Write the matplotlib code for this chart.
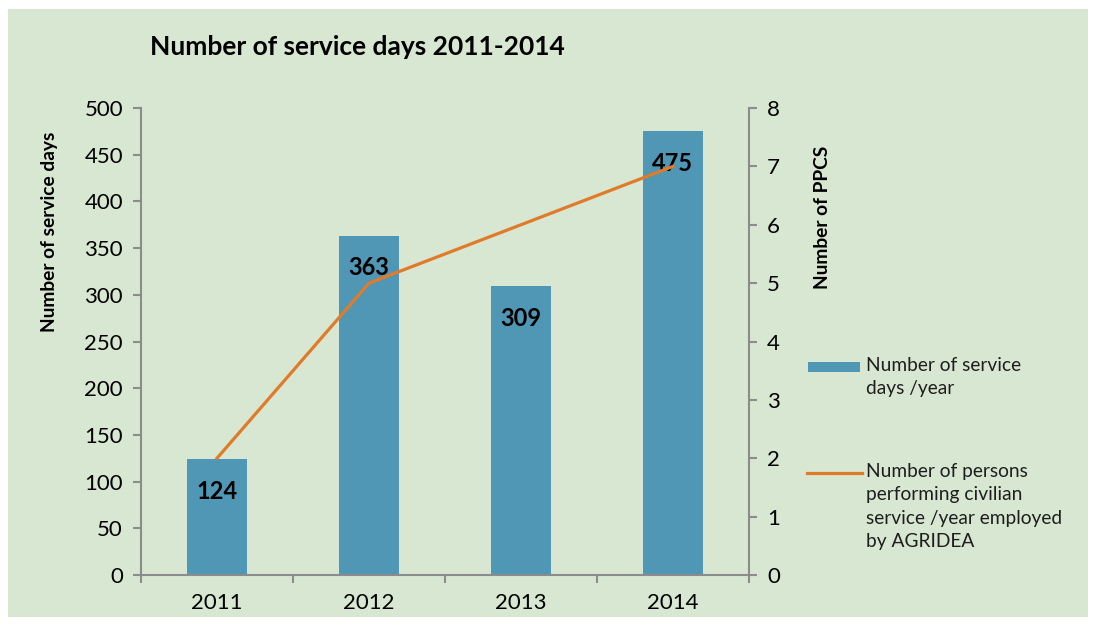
import matplotlib.pyplot as plt
from matplotlib.patches import Rectangle
from matplotlib.lines import Line2D

# data
years = ["2011", "2012", "2013", "2014"]
service_days = [124, 363, 309, 475]
ppcs = [2, 5, 6, 7]

bar_color = "#4f97b5"
line_color = "#e07b2a"
bg = "#d8e7d2"
axis_gray = "#8c8c8c"

plt.rcParams['font.family'] = ['Lato', 'DejaVu Sans']

fig = plt.figure(figsize=(10.96, 6.26), dpi=100)
fig.patch.set_facecolor("white")
fig.add_artist(Rectangle((8 / 1096, 1 - 617 / 626), 1080 / 1096, 608 / 626,
                         transform=fig.transFigure, facecolor=bg, edgecolor="none", zorder=-10))

ax = fig.add_axes([141 / 1096, 1 - 575 / 626, 608 / 1096, 467 / 626])
ax.set_facecolor("none")
x = range(len(years))
bars = ax.bar(x, service_days, width=0.4, color=bar_color, zorder=2)
ax.set_xlim(-0.5, 3.5)
ax.set_ylim(0, 500)
ax.set_yticks(range(0, 501, 50))
ax.set_xticks(list(x))
ax.set_xticklabels(years)
ax.set_xticks([-0.5, 0.5, 1.5, 2.5, 3.5], minor=True)
ax.tick_params(axis="x", which="major", length=0, pad=13, labelsize=16)
ax.tick_params(axis="x", which="minor", length=6, width=1.5, color=axis_gray, direction="out")
ax.tick_params(axis="y", length=6, width=1.5, color=axis_gray, labelsize=16, pad=7)
for s in ["top", "right"]:
    ax.spines[s].set_visible(False)
for s in ["left", "bottom"]:
    ax.spines[s].set_color(axis_gray)
    ax.spines[s].set_linewidth(1.5)

for xi, v in zip(x, service_days):
    ax.annotate(str(v), (xi, v), xytext=(0, -23), textcoords="offset points",
                ha="center", va="center", fontsize=17, fontweight="bold", zorder=5)

ax2 = ax.twinx()
ax2.plot(list(x), ppcs, color=line_color, linewidth=2.3, zorder=3)
ax2.set_ylim(0, 8)
ax2.set_yticks(range(0, 9))
ax2.tick_params(axis="y", length=6, width=1.5, color=axis_gray, labelsize=16, pad=7)
for s in ["top", "left", "bottom"]:
    ax2.spines[s].set_visible(False)
ax2.spines["right"].set_color(axis_gray)
ax2.spines["right"].set_linewidth(1.5)

fig.text(150 / 1096, 1 - 47 / 626, "Number of service days 2011-2014",
         fontsize=19, fontweight="bold", va="center", ha="left")
fig.text(50 / 1096, 1 - 232 / 626, "Number of service days", rotation=90,
         fontsize=13.8, fontweight="bold", va="center", ha="center")
fig.text(822 / 1096, 1 - 217 / 626, "Number of PPCS", rotation=90,
         fontsize=13.8, fontweight="bold", va="center", ha="center")

# legend drawn by hand to keep the wrapped labels where they are
fig.add_artist(Rectangle((808 / 1096, 1 - 372 / 626), 52 / 1096, 10 / 626,
                         transform=fig.transFigure, facecolor=bar_color, edgecolor="none"))
fig.text(866 / 1096, 1 - 357 / 626, "Number of service\ndays /year",
         fontsize=13.8, va="top", ha="left", linespacing=1.42, color="#1e1e1e")
fig.add_artist(Line2D([807 / 1096, 862 / 1096], [1 - 473 / 626, 1 - 473 / 626],
                      transform=fig.transFigure, color=line_color, linewidth=2.3))
fig.text(866 / 1096, 1 - 463 / 626,
         "Number of persons\nperforming civilian\nservice /year employed\nby AGRIDEA",
         fontsize=13.8, va="top", ha="left", linespacing=1.45, color="#1e1e1e")

fig.savefig("out.png", dpi=100, facecolor=fig.get_facecolor())
